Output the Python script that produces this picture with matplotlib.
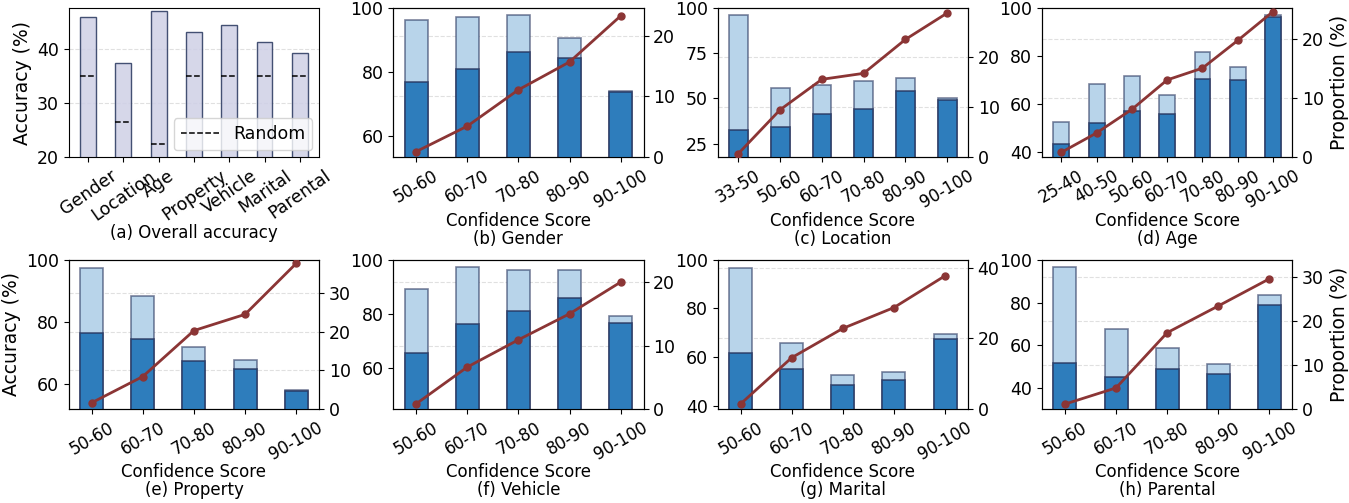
import numpy as np
import matplotlib
matplotlib.use("Agg")
import matplotlib.pyplot as plt

#####   DATA   #####
overall_names = ["Gender", "Location", "Age", "Property", "Vehicle", "Marital", "Parental"]
overall_acc = [45.9, 37.5, 47.1, 43.2, 44.5, 41.3, 39.2]
random_acc = [35.0, 26.5, 22.5, 35.0, 35.0, 35.0, 35.0]

bins5 = ["50-60", "60-70", "70-80", "80-90", "90-100"]
bins_loc = ["33-50", "50-60", "60-70", "70-80", "80-90", "90-100"]
bins_age = ["25-40", "40-50", "50-60", "60-70", "70-80", "80-90", "90-100"]

# light bar (upper), dark bar (accuracy), line (proportion %)
gender_light = [96.3, 97.2, 97.7, 90.5, 74.1]
gender_dark = [77.0, 80.9, 86.2, 84.3, 73.7]
gender_prop = [0.9, 5.1, 11.1, 15.7, 23.3]

location_light = [95.9, 55.9, 57.4, 59.8, 61.5, 50.3]
location_dark = [32.6, 34.2, 41.4, 44.4, 53.9, 49.4]
location_prop = [0.7, 9.5, 15.6, 16.8, 23.6, 28.9]

age_light = [52.5, 68.3, 71.6, 63.8, 81.5, 75.4, 96.9]
age_dark = [43.4, 52.0, 57.3, 55.9, 70.6, 70.2, 96.2]
age_prop = [0.8, 4.1, 8.1, 13.1, 15.1, 19.8, 24.7]

property_light = [97.5, 88.3, 71.9, 67.8, 58.0]
property_dark = [76.4, 74.6, 67.4, 64.8, 57.7]
property_prop = [1.6, 8.4, 20.3, 24.5, 37.7]

vehicle_light = [89.1, 97.2, 96.4, 96.2, 79.4]
vehicle_dark = [65.4, 76.3, 81.1, 86.0, 76.7]
vehicle_prop = [0.8, 6.6, 10.9, 15.0, 20.0]

marital_light = [96.8, 65.9, 52.4, 53.8, 69.6]
marital_dark = [61.8, 54.9, 48.5, 50.7, 67.6]
marital_prop = [1.4, 14.5, 22.8, 28.7, 37.7]

parental_light = [96.7, 67.6, 58.6, 51.1, 83.5]
parental_dark = [51.8, 45.3, 48.9, 46.6, 78.8]
parental_prop = [1.1, 4.8, 17.4, 23.5, 29.7]

#####   STYLE   #####
plt.rcParams["font.family"] = "DejaVu Sans"
TICK_FS = 12.5
XT_FS = 12
XL_FS = 12
YL_FS = 13.5
LIGHT = "#b8d4ea"
DARK = "#2e7dbc"
EDGE = "#26355c"
LINE = "#8b3535"
GRID = "#e0e0e0"

fig, axes = plt.subplots(2, 4, figsize=(13.49, 5.03), dpi=100)
plt.subplots_adjust(left=0.051, right=0.958, top=0.984, bottom=0.187, wspace=0.296, hspace=0.69)

### (a) overall accuracy
ax = axes[0, 0]
x = np.arange(len(overall_names))
ax.bar(x, overall_acc, width=0.45, color="#cfd0e6", edgecolor=EDGE, linewidth=1.0, alpha=0.85, zorder=2)
for i, r in enumerate(random_acc):
  ax.hlines(r, i - 0.225, i + 0.225, colors="black", linestyles="--", linewidth=1.1, zorder=3,
            label="Random" if i == 0 else None)
ax.set_ylim(20, 47.6)
ax.set_yticks([20, 30, 40])
ax.set_xticks(x)
ax.set_xticklabels(overall_names, rotation=35, ha="center", fontsize=TICK_FS)
ax.tick_params(axis="y", labelsize=TICK_FS)
ax.set_ylabel("Accuracy (%)", fontsize=YL_FS)
ax.set_xlabel("(a) Overall accuracy", fontsize=XL_FS, labelpad=0)
ax.yaxis.grid(True, linestyle="--", color=GRID, linewidth=0.8, zorder=0)
ax.set_axisbelow(True)
ax.legend(loc="lower right", fontsize=TICK_FS, handlelength=2.2, borderpad=0.4,
          borderaxespad=0.4, handletextpad=0.8)

### (b)-(h) confidence panels
panels = [
  (axes[0, 1], bins5, gender_light, gender_dark, gender_prop, (53.4, 100), 24.6, "(b) Gender"),
  (axes[0, 2], bins_loc, location_light, location_dark, location_prop, (17.6, 100), 29.9, "(c) Location"),
  (axes[0, 3], bins_age, age_light, age_dark, age_prop, (37.9, 100), 25.3, "(d) Age"),
  (axes[1, 0], bins5, property_light, property_dark, property_prop, (52.0, 100), 38.6, "(e) Property"),
  (axes[1, 1], bins5, vehicle_light, vehicle_dark, vehicle_prop, (44.9, 100), 23.5, "(f) Vehicle"),
  (axes[1, 2], bins5, marital_light, marital_dark, marital_prop, (38.6, 100), 42.2, "(g) Marital"),
  (axes[1, 3], bins5, parental_light, parental_dark, parental_prop, (30.3, 100), 34.0, "(h) Parental"),
]
left_ticks = [[60, 80, 100], [25, 50, 75, 100], [40, 60, 80, 100],
              [60, 80, 100], [60, 80, 100], [40, 60, 80, 100], [40, 60, 80, 100]]

for k, (ax, bins, light, dark, prop, ylim, rtop, title) in enumerate(panels):
  x = np.arange(len(bins))
  ax2 = ax.twinx()
  ax2.plot(x, prop, "-o", color=LINE, linewidth=2, markersize=5, zorder=5)
  ax2.set_ylim(0, rtop)
  ax2.tick_params(axis="y", labelsize=TICK_FS)
  if k in (2, 6):
    ax2.set_ylabel("Proportion (%)", fontsize=YL_FS)

  # grid of the right axis, drawn behind the bars
  for t in ax2.get_yticks():
    if 0 < t < rtop:
      ax.axhline(ylim[0] + (ylim[1] - ylim[0]) * t / rtop, linestyle="--", color=GRID,
                 linewidth=0.8, zorder=0)

  ax.bar(x, light, width=0.45, color=LIGHT, edgecolor=(0.15, 0.2, 0.36, 0.6), linewidth=1.2, zorder=2)
  ax.bar(x, dark, width=0.45, color=DARK, edgecolor=(0.15, 0.2, 0.36, 0.8), linewidth=1.2, zorder=3)
  ax.set_ylim(*ylim)
  ax.set_yticks(left_ticks[k])
  ax.set_xticks(x)
  ax.set_xticklabels(bins, rotation=30, ha="center", fontsize=XT_FS)
  ax.tick_params(axis="y", labelsize=TICK_FS)
  ax.set_xlabel("Confidence Score\n" + title, fontsize=XL_FS, linespacing=1.0, labelpad=0)
  if k == 3:
    ax.set_ylabel("Accuracy (%)", fontsize=YL_FS)
  ax.set_zorder(ax2.get_zorder() - 1)
  ax.patch.set_visible(False)

plt.savefig("out.png", dpi=100)
